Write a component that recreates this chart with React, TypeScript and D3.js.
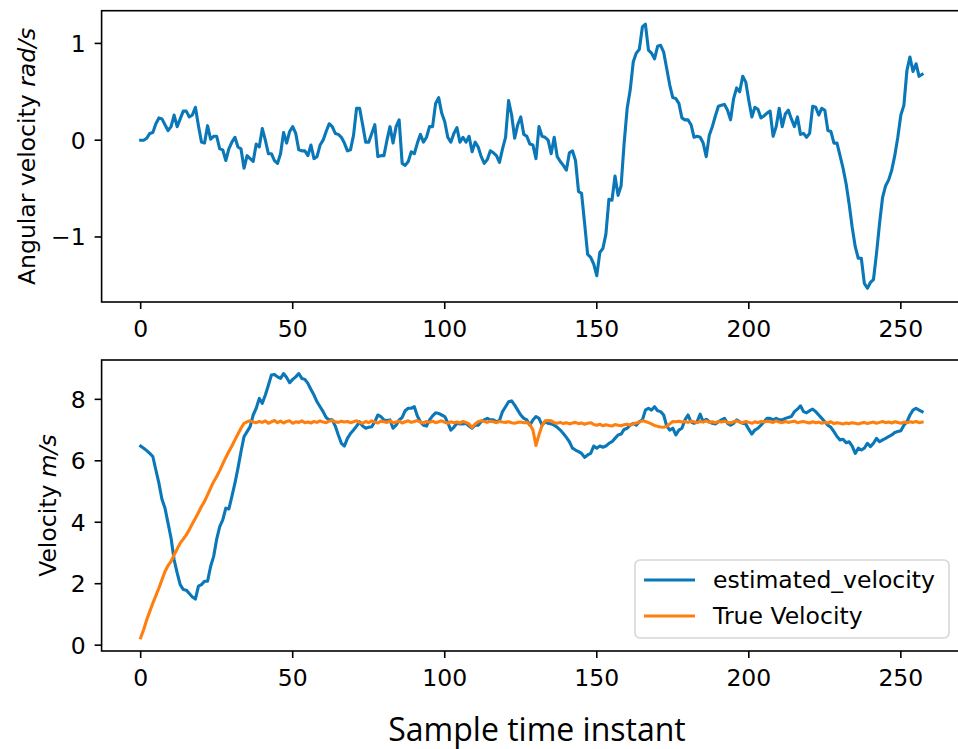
import React from "react";
import * as d3 from "d3";

const angularVelocity = [
  0.0, 0.0, 0.02, 0.07, 0.08, 0.17, 0.23, 0.22, 0.16, 0.1,
  0.14, 0.26, 0.14, 0.22, 0.3, 0.3, 0.24, 0.26, 0.34, 0.15,
  -0.02, -0.03, 0.15, 0.01, 0.04, 0.04, -0.09, -0.1, -0.21, -0.09,
  -0.02, 0.03, -0.07, -0.09, -0.29, -0.16, -0.19, -0.22, -0.04, -0.07,
  0.12, 0.0, -0.14, -0.14, -0.21, -0.24, -0.14, 0.08, -0.03, 0.09,
  0.14, 0.07, -0.1, -0.11, -0.11, -0.16, -0.05, -0.19, -0.17, -0.05,
  0.0, 0.09, 0.17, 0.14, 0.07, 0.06, 0.03, -0.03, -0.11, -0.1,
  0.05, 0.33, 0.33, 0.16, -0.02, -0.02, 0.07, 0.16, -0.17, -0.16,
  -0.16, 0.0, 0.14, -0.03, 0.14, 0.21, -0.24, -0.26, -0.22, -0.12,
  -0.14, -0.03, 0.06, -0.02, 0.03, 0.14, 0.14, 0.38, 0.44, 0.28,
  0.19, 0.03, -0.02, 0.07, 0.13, -0.02, 0.03, -0.02, 0.04, -0.12,
  -0.02, -0.07, -0.17, -0.24, -0.2, -0.11, -0.13, -0.16, -0.23, -0.09,
  0.03, 0.41, 0.26, 0.02, 0.16, 0.24, 0.06, 0.04, -0.04, -0.05,
  -0.19, 0.14, 0.04, 0.03, 0.0, -0.14, 0.03, -0.17, -0.22, -0.26,
  -0.31, -0.13, -0.11, -0.21, -0.53, -0.55, -0.86, -1.18, -1.21, -1.28,
  -1.4, -1.16, -1.12, -0.97, -0.61, -0.62, -0.37, -0.57, -0.47, -0.03,
  0.33, 0.52, 0.81, 0.9, 0.94, 1.17, 1.2, 0.93, 0.9, 0.84,
  0.97, 0.98, 0.91, 0.74, 0.57, 0.44, 0.43, 0.38, 0.23, 0.21,
  0.21, 0.16, 0.03, 0.04, 0.03, -0.03, -0.17, 0.05, 0.14, 0.25,
  0.35, 0.36, 0.37, 0.31, 0.21, 0.43, 0.54, 0.5, 0.66, 0.6,
  0.41, 0.24, 0.34, 0.32, 0.23, 0.25, 0.28, 0.3, 0.04, 0.14,
  0.33, 0.14, 0.27, 0.31, 0.22, 0.14, 0.24, 0.06, 0.07, 0.03,
  0.07, 0.35, 0.34, 0.26, 0.33, 0.31, 0.1, 0.09, -0.03, -0.03,
  -0.16, -0.29, -0.45, -0.66, -0.9, -1.1, -1.22, -1.22, -1.48, -1.53,
  -1.47, -1.44, -1.17, -0.86, -0.59, -0.47, -0.41, -0.31, -0.16, 0.03,
  0.26, 0.36, 0.72, 0.86, 0.71, 0.79, 0.66, 0.68,
];

const estimatedVelocity = [
  6.48, 6.41, 6.33, 6.24, 6.14, 5.7, 5.27, 4.75, 4.46, 3.97,
  3.48, 2.78, 2.35, 1.97, 1.81, 1.79, 1.68, 1.57, 1.5, 1.92,
  1.97, 2.08, 2.08, 2.56, 2.89, 3.45, 3.86, 4.08, 4.46, 4.43,
  4.84, 5.27, 5.76, 6.3, 6.79, 6.95, 7.11, 7.49, 7.71, 8.03,
  7.87, 8.14, 8.46, 8.79, 8.81, 8.73, 8.68, 8.84, 8.71, 8.54,
  8.65, 8.73, 8.84, 8.68, 8.65, 8.52, 8.32, 8.14, 7.92, 7.76,
  7.6, 7.41, 7.33, 7.33, 7.13, 6.84, 6.57, 6.48, 6.73, 6.89,
  7.0, 7.13, 7.27, 7.13, 7.06, 7.09, 7.11, 7.27, 7.49, 7.44,
  7.33, 7.31, 7.33, 7.06, 7.16, 7.33, 7.41, 7.63, 7.71, 7.71,
  7.76, 7.46, 7.27, 7.16, 7.13, 7.33, 7.46, 7.56, 7.54, 7.49,
  7.44, 7.24, 7.0, 7.09, 7.22, 7.2, 7.2, 7.22, 7.13, 7.06,
  7.16, 7.16, 7.27, 7.33, 7.38, 7.33, 7.33, 7.27, 7.31, 7.6,
  7.76, 7.92, 7.95, 7.81, 7.65, 7.49, 7.38, 7.33, 7.16, 7.33,
  7.44, 7.38, 7.16, 7.27, 7.22, 7.2, 7.16, 7.09, 7.0, 6.89,
  6.76, 6.62, 6.41, 6.35, 6.3, 6.24, 6.11, 6.19, 6.24, 6.48,
  6.41, 6.48, 6.44, 6.48, 6.57, 6.62, 6.73, 6.84, 6.87, 7.02,
  7.06, 7.16, 7.22, 7.16, 7.27, 7.33, 7.65, 7.71, 7.65, 7.76,
  7.63, 7.6, 7.49, 7.13, 7.0, 7.06, 6.84, 7.0, 7.06, 7.33,
  7.49, 7.27, 7.22, 7.27, 7.52, 7.27, 7.35, 7.27, 7.22, 7.2,
  7.27, 7.33, 7.38, 7.22, 7.16, 7.22, 7.33, 7.27, 7.22, 7.2,
  7.02, 6.87, 7.0, 7.06, 7.16, 7.27, 7.38, 7.38, 7.33, 7.38,
  7.33, 7.33, 7.38, 7.41, 7.44, 7.6, 7.68, 7.79, 7.6, 7.56,
  7.63, 7.68, 7.6, 7.49, 7.38, 7.27, 7.16, 7.09, 6.95, 6.79,
  6.68, 6.7, 6.59, 6.62, 6.48, 6.24, 6.41, 6.35, 6.41, 6.57,
  6.46, 6.57, 6.73, 6.62, 6.68, 6.73, 6.79, 6.84, 6.92, 6.95,
  6.98, 7.16, 7.27, 7.49, 7.65, 7.71, 7.65, 7.6,
];

const trueVelocity = [
  0.24, 0.51, 0.83, 1.1, 1.37, 1.61, 1.86, 2.13, 2.4, 2.59,
  2.73, 2.94, 3.13, 3.32, 3.45, 3.59, 3.76, 3.95, 4.13, 4.32,
  4.51, 4.68, 4.89, 5.11, 5.32, 5.49, 5.68, 5.9, 6.11, 6.3,
  6.48, 6.68, 6.87, 7.06, 7.22, 7.27, 7.3, 7.26, 7.24, 7.28,
  7.25, 7.3, 7.22, 7.27, 7.31, 7.24, 7.29, 7.23, 7.28, 7.3,
  7.22, 7.27, 7.25, 7.3, 7.24, 7.26, 7.23, 7.28, 7.25, 7.3,
  7.26, 7.24, 7.29, 7.31, 7.27, 7.25, 7.29, 7.26, 7.28, 7.24,
  7.27, 7.3, 7.25, 7.22, 7.28, 7.24, 7.3, 7.26, 7.23, 7.29,
  7.27, 7.25, 7.3, 7.24, 7.26, 7.29, 7.23, 7.27, 7.3, 7.25,
  7.28, 7.31, 7.26, 7.23, 7.28, 7.25, 7.29, 7.24, 7.27, 7.3,
  7.25, 7.22, 7.27, 7.24, 7.26, 7.23, 7.28, 7.25, 7.2, 7.08,
  7.2, 7.27, 7.3, 7.28, 7.25, 7.29, 7.27, 7.24, 7.28, 7.26,
  7.25, 7.27, 7.24, 7.22, 7.25, 7.26, 7.24, 7.25, 7.18, 7.0,
  6.5, 6.85, 7.15, 7.3, 7.31, 7.3, 7.24, 7.22, 7.25, 7.21,
  7.24, 7.2, 7.23, 7.25, 7.21, 7.23, 7.19, 7.22, 7.24, 7.18,
  7.16, 7.19, 7.14, 7.17, 7.15, 7.13, 7.18, 7.16, 7.14, 7.17,
  7.19, 7.16, 7.21, 7.23, 7.26, 7.3, 7.28, 7.24, 7.2, 7.15,
  7.12, 7.1, 7.09, 7.12, 7.2, 7.28, 7.27, 7.29, 7.26, 7.28,
  7.25, 7.29, 7.27, 7.24, 7.28, 7.26, 7.3, 7.25, 7.27, 7.24,
  7.28, 7.26, 7.29, 7.25, 7.23, 7.27, 7.3, 7.26, 7.24, 7.28,
  7.25, 7.22, 7.27, 7.24, 7.28, 7.26, 7.29, 7.27, 7.25, 7.3,
  7.26, 7.24, 7.28, 7.25, 7.27, 7.29, 7.24, 7.26, 7.28, 7.25,
  7.23, 7.27, 7.24, 7.26, 7.22, 7.25, 7.23, 7.27, 7.21, 7.24,
  7.22, 7.2, 7.23, 7.21, 7.24, 7.22, 7.2, 7.23, 7.25, 7.21,
  7.24, 7.26, 7.22, 7.25, 7.28, 7.24, 7.26, 7.23, 7.27, 7.25,
  7.22, 7.26, 7.24, 7.27, 7.25, 7.28, 7.24, 7.26,
];

const xTicks = [0, 50, 100, 150, 200, 250];
const topYTicks = [-1, 0, 1];
const bottomYTicks = [0, 2, 4, 6, 8];
const legendLabels = ["estimated_velocity", "True Velocity"];

const BLUE = "#0a77b8";
const ORANGE = "#ff7f0e";
const FONT = "'DejaVu Sans', sans-serif";
const FS = 23.5;
const LW = 3.1;

const fmt = (v: number) => (v < 0 ? "\u2212" + Math.abs(v) : String(v));

function Panel({
  top,
  bottom,
  yDomain,
  yTicks,
  series,
  ylabel,
  ylabelUnit,
  ylabelX,
}: {
  top: number;
  bottom: number;
  yDomain: [number, number];
  yTicks: number[];
  series: { values: number[]; color: string }[];
  ylabel: string;
  ylabelUnit: string;
  ylabelX: number;
}) {
  const left = 101.6;
  const right = 961.2;
  const x = d3.scaleLinear().domain([-12.85, 269.85]).range([left, right]);
  const y = d3.scaleLinear().domain(yDomain).range([bottom, top]);
  const line = d3
    .line<number>()
    .x((_, i) => x(i))
    .y((d) => y(d));
  const clipId = `clip-${Math.round(top)}`;
  return (
    <g>
      <defs>
        <clipPath id={clipId}>
          <rect x={left} y={top} width={right - left} height={bottom - top} />
        </clipPath>
      </defs>
      <g clipPath={`url(#${clipId})`}>
        {series.map((s, k) => (
          <path
            key={k}
            d={line(s.values) || ""}
            fill="none"
            stroke={s.color}
            strokeWidth={LW}
            strokeLinejoin="round"
            strokeLinecap="square"
          />
        ))}
      </g>
      <rect
        x={left}
        y={top}
        width={right - left}
        height={bottom - top}
        fill="none"
        stroke="#000"
        strokeWidth={1.6}
      />
      {xTicks.map((t) => (
        <g key={t}>
          <line x1={x(t)} x2={x(t)} y1={bottom} y2={bottom + 7} stroke="#000" strokeWidth={1.6} />
          <text
            x={x(t)}
            y={bottom + 35}
            textAnchor="middle"
            fontFamily={FONT}
            fontSize={FS}
            fill="#000"
          >
            {fmt(t)}
          </text>
        </g>
      ))}
      {yTicks.map((t) => (
        <g key={t}>
          <line x1={left - 7} x2={left} y1={y(t)} y2={y(t)} stroke="#000" strokeWidth={1.6} />
          <text
            x={left - 16}
            y={y(t)}
            dy="0.36em"
            textAnchor="end"
            fontFamily={FONT}
            fontSize={FS}
            fill="#000"
          >
            {fmt(t)}
          </text>
        </g>
      ))}
      <text
        transform={`translate(${ylabelX},${(top + bottom) / 2}) rotate(-90)`}
        textAnchor="middle"
        fontFamily={FONT}
        fontSize={FS}
        fill="#000"
      >
        {ylabel} <tspan fontStyle="italic">{ylabelUnit}</tspan>
      </text>
    </g>
  );
}

export default function App() {
  const legendColors = [BLUE, ORANGE];
  return (
    <svg
      width={958}
      height={749}
      style={{ position: "absolute", left: 0, top: 0, background: "#fff" }}
    >
      <rect width={958} height={749} fill="#fff" />
      <Panel
        top={10.7}
        bottom={302}
        yDomain={[-1.672, 1.338]}
        yTicks={topYTicks}
        series={[{ values: angularVelocity, color: BLUE }]}
        ylabel="Angular velocity"
        ylabelUnit="rad/s"
        ylabelX={35}
      />
      <Panel
        top={360}
        bottom={651}
        yDomain={[-0.19, 9.28]}
        yTicks={bottomYTicks}
        series={[
          { values: estimatedVelocity, color: BLUE },
          { values: trueVelocity, color: ORANGE },
        ]}
        ylabel="Velocity"
        ylabelUnit="m/s"
        ylabelX={55.5}
      />
      <g>
        <rect
          x={635}
          y={560}
          width={314}
          height={78}
          rx={5}
          fill="#fff"
          fillOpacity={0.8}
          stroke="#d6d6d6"
          strokeWidth={1.6}
        />
        {legendLabels.map((lab, k) => (
          <g key={lab}>
            <line
              x1={644}
              x2={695}
              y1={580 + k * 36}
              y2={580 + k * 36}
              stroke={legendColors[k]}
              strokeWidth={LW}
            />
            <text
              x={713}
              y={588 + k * 36}
              fontFamily={FONT}
              fontSize={FS}
              fill="#000"
            >
              {lab}
            </text>
          </g>
        ))}
      </g>
      <text
        x={537}
        y={741}
        textAnchor="middle"
        fontFamily="'Open Sans', sans-serif"
        fontSize={32}
        fill="#000"
      >
        Sample time instant
      </text>
    </svg>
  );
}
